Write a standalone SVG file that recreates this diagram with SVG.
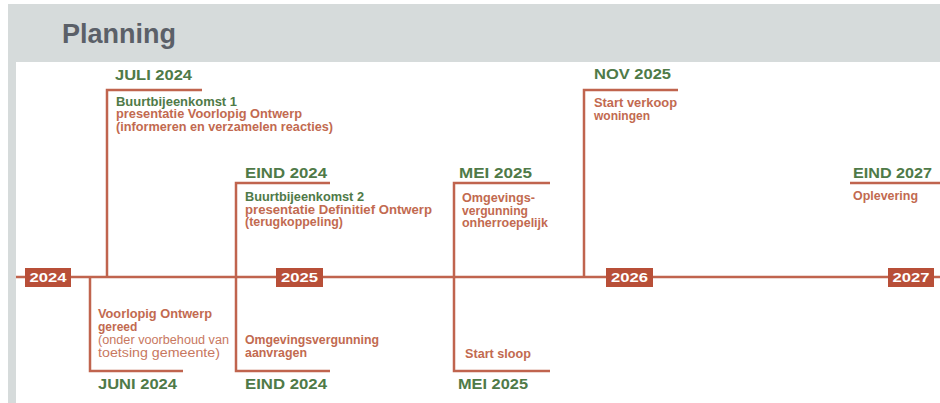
<svg xmlns="http://www.w3.org/2000/svg" width="940" height="403" viewBox="0 0 940 403">
  <style>
    .frame { fill: #d6dbdb; }
    .page { fill: #ffffff; }
    .title { font-family: "Liberation Sans", Arial, sans-serif; font-weight: bold; font-size: 27px; fill: #5b6068; }
    .axis { stroke: #c0644e; stroke-width: 2.5; fill: none; }
    .bracket { stroke: #c0644e; stroke-width: 2.5; fill: none; }
    .yearbox { fill: #b84f38; }
    .year { font-family: "Liberation Sans", Arial, sans-serif; font-weight: bold; font-size: 13px; fill: #ffffff; text-anchor: middle; }
    .date { font-family: "Liberation Sans", Arial, sans-serif; font-weight: bold; font-size: 15px; fill: #4f7a48; }
    .lead { font-family: "Liberation Sans", Arial, sans-serif; font-weight: bold; font-size: 12px; fill: #4f7a48; }
    .desc { font-family: "Liberation Sans", Arial, sans-serif; font-weight: bold; font-size: 12px; fill: #c26a50; }
    .note { font-family: "Liberation Sans", Arial, sans-serif; font-weight: normal; font-size: 12px; fill: #c8785f; }
  </style>

  <!-- page frame and header band -->
  <rect class="frame" x="8" y="4" width="932" height="399"/>
  <rect class="page" x="16" y="62" width="924" height="341"/>
  <text class="title" x="62" y="43" textLength="114" lengthAdjust="spacingAndGlyphs">Planning</text>

  <!-- timeline axis -->
  <g id="connectors">
    <line class="axis" x1="16" y1="277" x2="940" y2="277"/>
  </g>

  <!-- year markers -->
  <g id="year-2024">
    <rect class="yearbox" x="25" y="268" width="46" height="19"/>
    <text class="year" x="48" y="282" textLength="37" lengthAdjust="spacingAndGlyphs">2024</text>
  </g>
  <g id="year-2025">
    <rect class="yearbox" x="276" y="268" width="47" height="19"/>
    <text class="year" x="299.5" y="282" textLength="37" lengthAdjust="spacingAndGlyphs">2025</text>
  </g>
  <g id="year-2026">
    <rect class="yearbox" x="606" y="268" width="47" height="19"/>
    <text class="year" x="629.5" y="282" textLength="37" lengthAdjust="spacingAndGlyphs">2026</text>
  </g>
  <g id="year-2027">
    <rect class="yearbox" x="888" y="268" width="46" height="19"/>
    <text class="year" x="911" y="282" textLength="37" lengthAdjust="spacingAndGlyphs">2027</text>
  </g>

  <!-- June 2024: design ready -->
  <g id="juni-2024">
    <path class="bracket" d="M90,277 V371 H183"/>
    <text class="desc" x="98" y="318" textLength="114" lengthAdjust="spacingAndGlyphs">Voorlopig Ontwerp</text>
    <text class="desc" x="98" y="331">gereed</text>
    <text class="note" x="98" y="344" textLength="131" lengthAdjust="spacingAndGlyphs">(onder voorbehoud van</text>
    <text class="note" x="98" y="357" textLength="122" lengthAdjust="spacingAndGlyphs">toetsing gemeente)</text>
    <text class="date" x="98" y="389" textLength="79" lengthAdjust="spacingAndGlyphs">JUNI 2024</text>
  </g>

  <!-- July 2024: first neighbourhood meeting -->
  <g id="juli-2024">
    <path class="bracket" d="M107,277 V90 H202"/>
    <text class="date" x="115" y="80" textLength="77" lengthAdjust="spacingAndGlyphs">JULI 2024</text>
    <text class="lead" x="116" y="105.5" textLength="121" lengthAdjust="spacingAndGlyphs">Buurtbijeenkomst 1</text>
    <text class="desc" x="116" y="118" textLength="186" lengthAdjust="spacingAndGlyphs">presentatie Voorlopig Ontwerp</text>
    <text class="desc" x="116" y="130.5" textLength="217" lengthAdjust="spacingAndGlyphs">(informeren en verzamelen reacties)</text>
  </g>

  <!-- end 2024: second meeting and permit application -->
  <g id="eind-2024">
    <path class="bracket" d="M330,183 H236 V371 H330"/>
    <text class="date" x="245" y="178" textLength="82" lengthAdjust="spacingAndGlyphs">EIND 2024</text>
    <text class="lead" x="245" y="201" textLength="119" lengthAdjust="spacingAndGlyphs">Buurtbijeenkomst 2</text>
    <text class="desc" x="245" y="213.5" textLength="187" lengthAdjust="spacingAndGlyphs">presentatie Definitief Ontwerp</text>
    <text class="desc" x="245" y="226" textLength="98" lengthAdjust="spacingAndGlyphs">(terugkoppeling)</text>
    <text class="desc" x="245" y="344" textLength="134" lengthAdjust="spacingAndGlyphs">Omgevingsvergunning</text>
    <text class="desc" x="245" y="357" textLength="62" lengthAdjust="spacingAndGlyphs">aanvragen</text>
    <text class="date" x="245" y="389" textLength="82" lengthAdjust="spacingAndGlyphs">EIND 2024</text>
  </g>

  <!-- May 2025: permit final, demolition -->
  <g id="mei-2025">
    <path class="bracket" d="M550,183 H454 V371 H550"/>
    <text class="date" x="459" y="178" textLength="73" lengthAdjust="spacingAndGlyphs">MEI 2025</text>
    <text class="desc" x="462" y="202" textLength="73" lengthAdjust="spacingAndGlyphs">Omgevings-</text>
    <text class="desc" x="462" y="214.5" textLength="66" lengthAdjust="spacingAndGlyphs">vergunning</text>
    <text class="desc" x="462" y="227" textLength="86" lengthAdjust="spacingAndGlyphs">onherroepelijk</text>
    <text class="desc" x="465" y="358" textLength="66" lengthAdjust="spacingAndGlyphs">Start sloop</text>
    <text class="date" x="458" y="389" textLength="70" lengthAdjust="spacingAndGlyphs">MEI 2025</text>
  </g>

  <!-- November 2025: sales start -->
  <g id="nov-2025">
    <path class="bracket" d="M584,277 V90 H678"/>
    <text class="date" x="594" y="79" textLength="77" lengthAdjust="spacingAndGlyphs">NOV 2025</text>
    <text class="desc" x="594" y="107" textLength="83" lengthAdjust="spacingAndGlyphs">Start verkoop</text>
    <text class="desc" x="594" y="119.5">woningen</text>
  </g>

  <!-- end 2027: delivery -->
  <g id="eind-2027">
    <path class="bracket" d="M850,183 H940"/>
    <text class="date" x="853" y="178" textLength="79" lengthAdjust="spacingAndGlyphs">EIND 2027</text>
    <text class="desc" x="853" y="200" textLength="65" lengthAdjust="spacingAndGlyphs">Oplevering</text>
  </g>
</svg>
